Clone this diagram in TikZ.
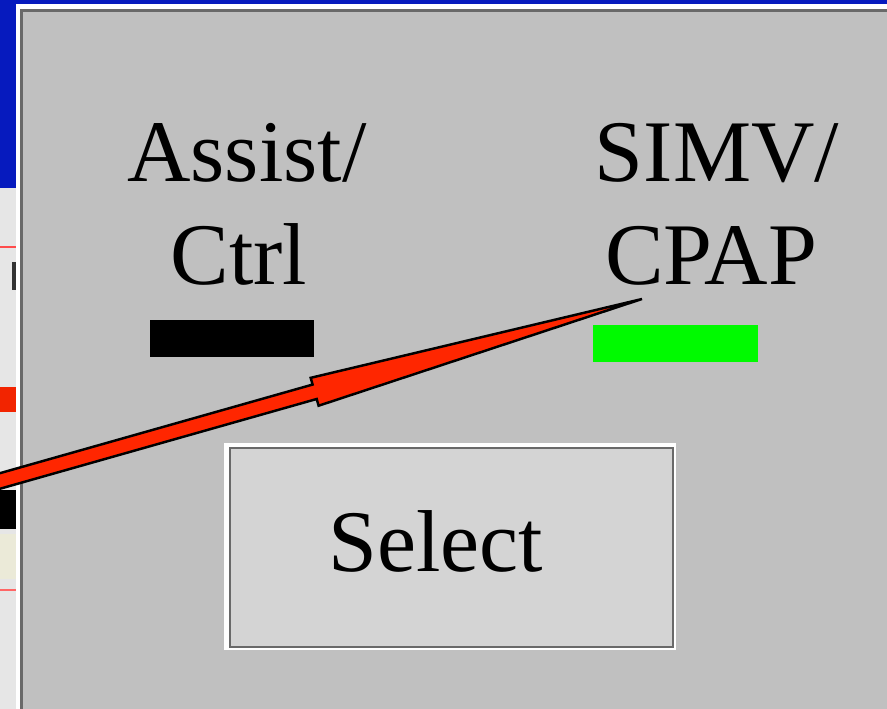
\documentclass[tikz,border=0pt]{standalone}
\usepackage{fontspec}
\setmainfont{Liberation Serif}
\usetikzlibrary{positioning}
\usetikzlibrary{calc}
\definecolor{slideblue}{RGB}{6,26,190}
\definecolor{panelgray}{RGB}{192,192,192}
\definecolor{panelline}{RGB}{105,105,105}
\definecolor{btngray}{RGB}{212,212,212}
\definecolor{stripgray}{RGB}{230,230,230}
\definecolor{pointred}{RGB}{255,38,0}
\definecolor{ledgreen}{RGB}{0,250,0}
\tikzset{lbl/.style={anchor=base,inner sep=0pt,font=\fontsize{50}{58}\selectfont}}
\tikzset{lamp/.style={inner sep=0pt,minimum width=3.3cm,minimum height=0.76cm}}
\tikzset{pointer/.style={draw=black,fill=pointred,line width=1.4pt,line join=miter}}

\begin{document}
\begin{tikzpicture}[x=0.02cm, y=-0.02cm]
        \clip (0,0) rectangle (887,709);
        \fill[slideblue] (0,0) rectangle (887,709);
        % screen behind the panel
        \fill[stripgray] (0,188) rectangle (17,709);
        \fill[red!70!white] (0,246) rectangle (17,248.5);
        \fill[black!80] (12,262) rectangle (16,290);
        \fill[pointred!95!black] (0,387) rectangle (17,412);
        \fill[black] (0,490) rectangle (17,529);
        \fill[yellow!8!stripgray] (0,534) rectangle (17,579);
        \fill[red!60!white] (0,589) rectangle (17,591);
        % panel
        \fill[white] (16,4) rectangle (887,709);
        \fill[panelline] (20,9) rectangle (887,709);
        \fill[panelgray] (23,12) rectangle (887,709);
        \node[lbl] (assist) at (247,182) {Assist/};
        \node[lbl] (ctrl) at (239,285) {Ctrl};
        \node[lbl] (simv) at (717,182) {SIMV/};
        \node[lbl] (cpap) at (711,285) {CPAP};
        \node[lamp, fill=black] (acbar) at (232,338.5) {};
        \node[lamp, fill=ledgreen] (simvbar) at (675.5,343.5) {};
        % select button
        \node[fill=white, inner sep=0pt, minimum width=9.04cm, minimum height=4.14cm] (selframe) at (450,546.5) {};
        \node[draw=panelline, line width=1.2pt, fill=btngray, inner sep=0pt, minimum width=8.86cm, minimum height=3.98cm] (selbox) at (451.5,547.5) {};
        \node[lbl] (select) at (436,572) {Select};
        % pointer
        \coordinate (tail) at (-40,492.3);
        \coordinate (tip) at (642,299);
        \coordinate (hb) at ($(tail)!0.52!(tip)$);
        \draw[pointer] ($(tail)!0.15cm!90:(tip)$) -- ($(hb)!0.15cm!90:(tip)$)
            -- ($(hb)!0.29cm!90:(tip)$) -- (tip) -- ($(hb)!0.29cm!-90:(tip)$)
            -- ($(hb)!0.15cm!-90:(tip)$) -- ($(tail)!0.15cm!-90:(tip)$) -- cycle;
\end{tikzpicture}
\end{document}
